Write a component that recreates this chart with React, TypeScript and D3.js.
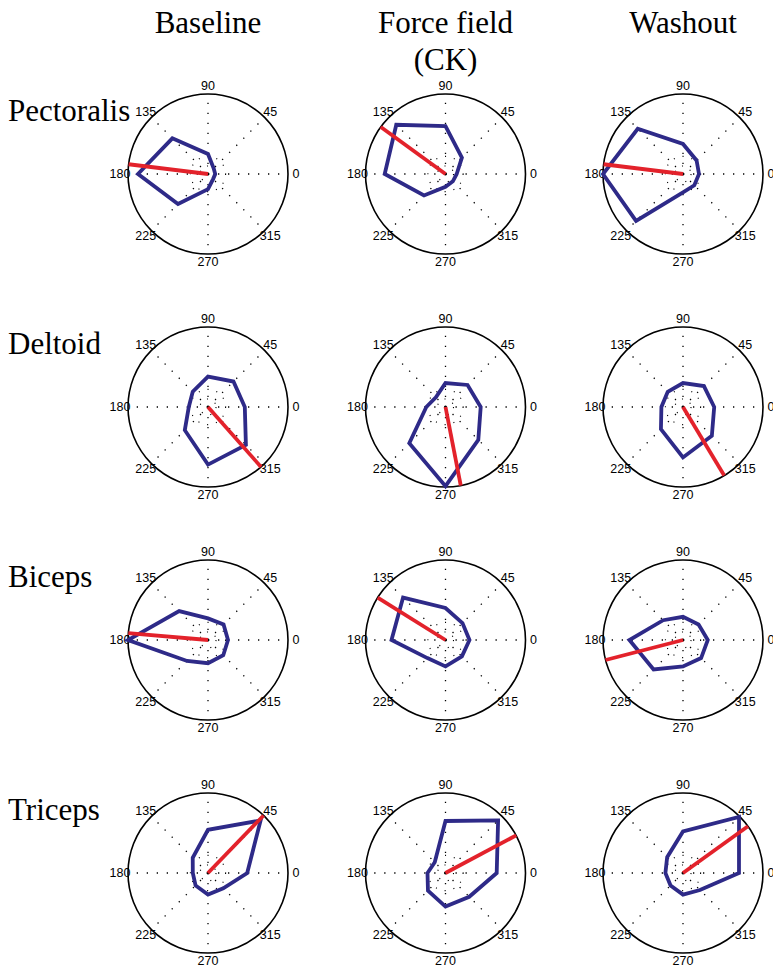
import * as d3 from 'd3';

const muscles = ['Pectoralis', 'Deltoid', 'Biceps', 'Triceps'];
const conditions = [['Baseline'], ['Force field', '(CK)'], ['Washout']];
const directions = [0, 45, 90, 135, 180, 225, 270, 315];
const ringLevels = [0.1, 0.22];

// activity per target direction, as fraction of rmax (baseline, force field, washout)
const pectoralis = [
  [0.09, 0.1, 0.25, 0.63, 0.875, 0.53, 0.19, 0.09],
  [0.14, 0.29, 0.6, 0.87, 0.76, 0.38, 0.16, 0.13],
  [0.2, 0.24, 0.375, 0.8, 1.0, 0.83, 0.23, 0.2],
];
const deltoid = [
  [0.46, 0.45, 0.38, 0.27, 0.24, 0.41, 0.72, 0.67],
  [0.44, 0.39, 0.3, 0.17, 0.24, 0.64, 0.99, 0.58],
  [0.39, 0.37, 0.3, 0.27, 0.27, 0.39, 0.63, 0.51],
];
const biceps = [
  [0.25, 0.275, 0.27, 0.51, 1.0, 0.37, 0.29, 0.27],
  [0.3, 0.3, 0.4, 0.75, 0.675, 0.32, 0.33, 0.29],
  [0.31, 0.275, 0.29, 0.35, 0.67, 0.52, 0.33, 0.32],
];
const triceps = [
  [0.49, 0.93, 0.54, 0.27, 0.19, 0.22, 0.27, 0.27],
  [0.64, 0.93, 0.65, 0.19, 0.225, 0.31, 0.42, 0.42],
  [0.7, 0.99, 0.52, 0.28, 0.22, 0.22, 0.27, 0.3],
];

// preferred direction (deg) for each condition
const pectoralisPD = [173, 144, 173];
const deltoidPD = [311.5, 281, 301];
const bicepsPD = [175, 148, 194.5];
const tricepsPD = [46, 28, 35.7];

const tuning = [pectoralis, deltoid, biceps, triceps];
const preferred = [pectoralisPD, deltoidPD, bicepsPD, tricepsPD];

const W = 773;
const H = 967;
const R = 80;
const BLUE = '#2e2a88';
const RED = '#e3222b';

const colX = d3.scaleLinear().domain([0, 2]).range([208, 683]);
const rowY = d3.scaleLinear().domain([0, 3]).range([174, 873]);
const r = d3.scaleLinear().domain([0, 1]).range([0, R]);

const rad = (deg: number) => (deg * Math.PI) / 180;
const px = (deg: number, v: number) => r(v) * Math.cos(rad(deg));
const py = (deg: number, v: number) => -r(v) * Math.sin(rad(deg));

const polygon = d3
  .lineRadial<[number, number]>()
  .angle((d) => Math.PI / 2 - rad(d[0]))
  .radius((d) => r(d[1]))
  .curve(d3.curveLinearClosed);

const PolarPanel = ({ values, pd }: { values: number[]; pd: number }) => {
  const pts = directions.map((a, i) => [a, values[i]] as [number, number]);
  return (
    <g>
      {directions.map((a) => (
        <line
          key={'s' + a}
          x1={0}
          y1={0}
          x2={px(a, 1)}
          y2={py(a, 1)}
          stroke="#000"
          strokeWidth={1.3}
          strokeDasharray="1.3 8.7"
        />
      ))}
      {ringLevels.map((v) => (
        <circle key={'r' + v} r={r(v)} fill="none" stroke="#000" strokeWidth={1.1} strokeDasharray="1.1 8" />
      ))}
      <circle r={R} fill="none" stroke="#000" strokeWidth={1.6} />
      {directions.map((a) => (
        <text
          key={'t' + a}
          x={px(a, 1.1)}
          y={py(a, 1.1)}
          textAnchor="middle"
          dominantBaseline="central"
          fontFamily="'Liberation Sans', Arial, sans-serif"
          fontSize={12.5}
        >
          {a}
        </text>
      ))}
      <path d={polygon(pts) ?? ''} fill="none" stroke={BLUE} strokeWidth={3.8} strokeLinejoin="miter" />
      <line x1={0} y1={0} x2={px(pd, 1)} y2={py(pd, 1)} stroke={RED} strokeWidth={3.8} />
    </g>
  );
};

const App = () => {
  return (
    <svg width={W} height={H} style={{ position: 'absolute', left: 0, top: 0, background: '#fff' }}>
      {conditions.map((lines, c) =>
        lines.map((t, k) => (
          <text
            key={'h' + c + k}
            x={colX(c)}
            y={33 + k * 37}
            textAnchor="middle"
            fontFamily="'Liberation Serif', 'Times New Roman', serif"
            fontSize={31}
          >
            {t}
          </text>
        ))
      )}
      {muscles.map((m, i) => (
        <g key={m}>
          {[0, 1, 2].map((c) => (
            <g key={c} transform={`translate(${colX(c)},${rowY(i)})`}>
              <PolarPanel values={tuning[i][c]} pd={preferred[i][c]} />
            </g>
          ))}
          <text x={8} y={rowY(i) - 53} fontFamily="'Liberation Serif', 'Times New Roman', serif" fontSize={31}>
            {m}
          </text>
        </g>
      ))}
    </svg>
  );
};

export default App;
